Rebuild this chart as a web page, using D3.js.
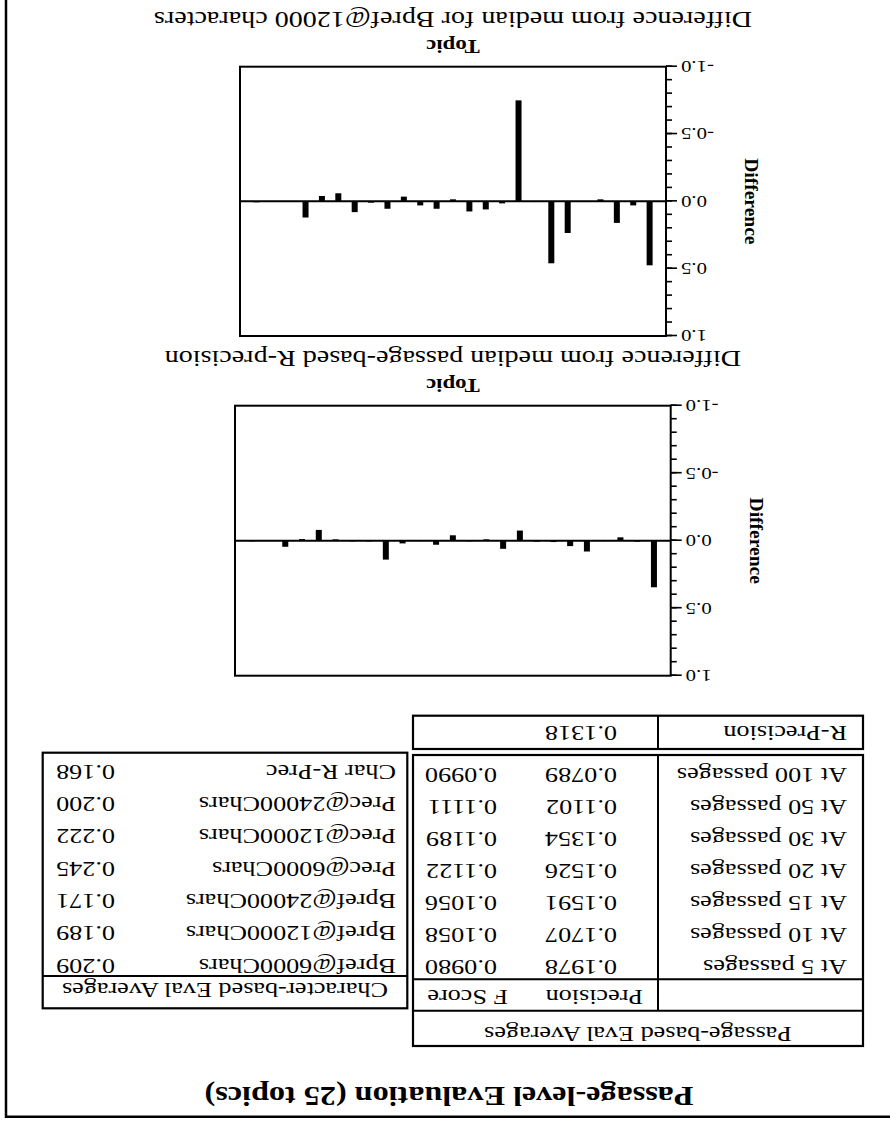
<!DOCTYPE html>
<html>
<head>
<meta charset="utf-8">
<script src="https://cdn.jsdelivr.net/npm/d3@7"></script>
<style>
  body { margin: 0; background: #fff; }
  svg { display: block; }
</style>
</head>
<body>
<svg id="page" width="890" height="1122"></svg>
<script>
const topics = d3.range(1, 26);
const rprecDiff = [0.345, 0.007, -0.025, 0.003, 0.08, 0.04, 0.01, 0.007, -0.075, 0.06,
                   -0.01, 0.005, -0.04, 0.03, 0.003, 0.02, 0.14, 0.005, 0.005, -0.01,
                   -0.08, -0.012, 0.045, 0.0, 0.005];
const bprefDiff = [0.475, 0.03, 0.16, -0.015, 0.003, 0.235, 0.46, 0.005, -0.75, 0.015,
                   0.06, 0.075, -0.015, 0.055, 0.03, -0.035, 0.055, 0.01, 0.08, -0.06,
                   -0.04, 0.12, 0.003, 0.003, 0.007];
const yTicks = [-1.0, -0.5, 0.0, 0.5, 1.0];

const passageRows = ['At 5 passages', 'At 10 passages', 'At 15 passages', 'At 20 passages',
                     'At 30 passages', 'At 50 passages', 'At 100 passages'];
const passagePrecision = ['0.1978', '0.1707', '0.1591', '0.1526', '0.1354', '0.1102', '0.0789'];
const passageFScore = ['0.0980', '0.1058', '0.1056', '0.1122', '0.1189', '0.1111', '0.0990'];
const rPrecision = '0.1318';

const charRows = ['Bpref@6000Chars', 'Bpref@12000Chars', 'Bpref@24000Chars', 'Prec@6000Chars',
                  'Prec@12000Chars', 'Prec@24000Chars', 'Char R-Prec'];
const charValues = ['0.209', '0.189', '0.171', '0.245', '0.222', '0.200', '0.168'];

const SERIF = '"Liberation Serif", "Times New Roman", Times, serif';
const SX = 1.2;      // scan is a bit wider than the fonts
const TICK_SX = 1.3;
const TABLE = {size: 22, sx: 1.19};
const BAR_W = 6;

const svg = d3.select('#page');
// the whole page is scanned upside down
const page = svg.append('g')
    .attr('transform', 'rotate(180 445 561)')
    .attr('font-family', SERIF)
    .attr('fill', '#000');

function put(g, x, y, str, o = {}) {
    return g.append('text')
        .attr('transform', `translate(${x},${y}) scale(${o.sx || SX},1)`)
        .attr('text-anchor', o.anchor || 'start')
        .attr('font-size', o.size || 21)
        .attr('font-weight', o.bold ? 'bold' : null)
        .text(str);
}

function hline(g, x0, x1, y, w = 2) {
    g.append('line').attr('x1', x0).attr('x2', x1).attr('y1', y).attr('y2', y)
        .attr('stroke', '#000').attr('stroke-width', w);
}

function vline(g, x, y0, y1, w = 2) {
    g.append('line').attr('x1', x).attr('x2', x).attr('y1', y0).attr('y2', y1)
        .attr('stroke', '#000').attr('stroke-width', w);
}

function frame(g, x0, y0, x1, y1, w = 2.2) {
    g.append('rect').attr('x', x0).attr('y', y0).attr('width', x1 - x0).attr('height', y1 - y0)
        .attr('fill', 'none').attr('stroke', '#000').attr('stroke-width', w);
}

// page border (only top and right survive the crop)
page.append('path')
    .attr('d', d3.line()([[0, 5.3], [884, 5.3], [884, 1122]]))
    .attr('fill', 'none').attr('stroke', '#000').attr('stroke-width', 2.5);

put(page, 441, 35, 'Passage-level Evaluation (25 topics)', {anchor: 'middle', size: 28, bold: true, sx: 1.15});

// ---- passage-based table
const pt = {x0: 27, x1: 477, y0: 76, y1: 367, div: 232, head1: 111.3, head2: 142.7};
const passG = page.append('g');
frame(passG, pt.x0, pt.y0, pt.x1, pt.y1);
hline(passG, pt.x0, pt.x1, pt.head1);
hline(passG, pt.x0, pt.x1, pt.head2);
vline(passG, pt.div, pt.head1, pt.y1);
put(passG, (pt.x0 + pt.x1) / 2, 95, 'Passage-based Eval Averages', {anchor: 'middle', ...TABLE});
put(passG, 247, 132.5, 'Precision', TABLE);
put(passG, 382, 132.5, 'F Score', TABLE);
passageRows.forEach((r, i) => {
    const by = 162.5 + 32 * i;
    put(passG, 43, by, r, TABLE);
    put(passG, 273, by, passagePrecision[i], TABLE);
    put(passG, 393, by, passageFScore[i], TABLE);
});

const rpG = page.append('g');
frame(rpG, pt.x0, 373, pt.x1, 406.3);
vline(rpG, pt.div, 373, 406.3);
put(rpG, 43, 396.5, 'R-Precision', TABLE);
put(rpG, 273, 396.5, rPrecision, TABLE);

// ---- character-based table
const ct = {x0: 482.7, x1: 847.3, y0: 113.7, y1: 369.3, head: 146};
const charG = page.append('g');
frame(charG, ct.x0, ct.y0, ct.x1, ct.y1);
hline(charG, ct.x0, ct.x1, ct.head);
put(charG, (ct.x0 + ct.x1) / 2, 139, 'Character-based Eval Averages', {anchor: 'middle', ...TABLE});
charRows.forEach((r, i) => {
    const by = 163.5 + 32.3 * i;
    put(charG, 494, by, r, TABLE);
    put(charG, 775, by, charValues[i], TABLE);
});

// ---- difference bar charts
function diffChart(box, values, title) {
    const g = page.append('g');
    const x = d3.scalePoint().domain(topics).range([box.x0, box.x1]).padding(1);
    const y = d3.scaleLinear().domain([-1, 1]).range([box.y1, box.y0]);

    g.append('g').selectAll('rect').data(values).join('rect')
        .attr('x', (d, i) => x(topics[i]) - BAR_W / 2)
        .attr('y', d => y(Math.max(0, d)))
        .attr('width', BAR_W)
        .attr('height', d => Math.abs(y(d) - y(0)))
        .attr('fill', '#000');

    frame(g, box.x0, box.y0, box.x1, box.y1, 2);
    hline(g, box.x0, box.x1, y(0), 2);

    const minor = d3.axisLeft(y).tickValues(d3.range(-10, 11).map(v => v / 10))
        .tickSize(6).tickFormat('');
    g.append('g').attr('transform', `translate(${box.x0},0)`).call(minor)
        .call(a => a.select('.domain').remove())
        .selectAll('line').attr('stroke-width', 1.6);

    const major = d3.axisLeft(y).tickValues(yTicks).tickSize(11).tickPadding(4)
        .tickFormat(d => d.toFixed(1));
    const ax = g.append('g').attr('transform', `translate(${box.x0},0)`).call(major)
        .attr('font-family', SERIF).attr('font-size', 16);
    ax.select('.domain').remove();
    ax.selectAll('line').attr('stroke-width', 1.6);
    ax.selectAll('text').each(function () {
        const t = d3.select(this);
        t.attr('x', +t.attr('x') / TICK_SX).attr('transform', `scale(${TICK_SX},1)`);
    });

    g.append('text')
        .attr('transform', `translate(${box.x0 - 86},${(box.y0 + box.y1) / 2}) rotate(-90)`)
        .attr('text-anchor', 'middle').attr('dy', '0.35em')
        .attr('font-weight', 'bold').attr('font-size', 19.5)
        .text('Difference');

    const cx = (box.x0 + box.x1) / 2;
    put(g, cx, box.y1 + 26.7, 'Topic', {anchor: 'middle', size: 19.5, bold: true, sx: 1.17});
    put(g, cx, box.y1 + 55, title, {anchor: 'middle', size: 24, sx: 1.17});
}

diffChart({x0: 219.3, x1: 655, y0: 446.3, y1: 716.3}, rprecDiff,
    'Difference from median passage-based R-precision');
diffChart({x0: 224, x1: 650, y0: 786, y1: 1055.3}, bprefDiff,
    'Difference from median for Bpref@12000 characters');
</script>
</body>
</html>
